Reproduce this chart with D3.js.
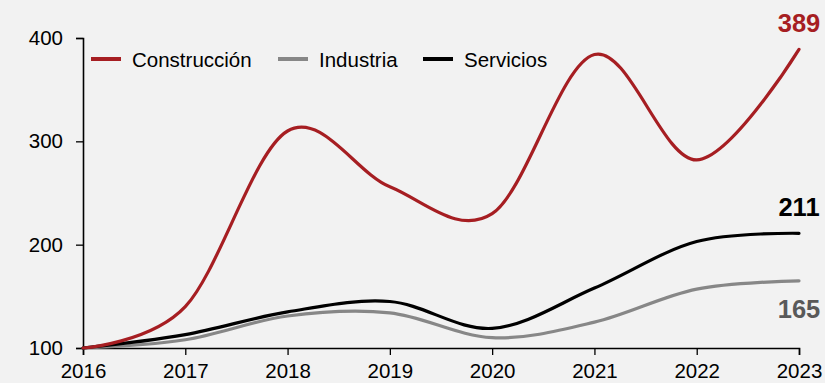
<!DOCTYPE html>
<html>
<head>
<meta charset="utf-8">
<script src="https://cdn.jsdelivr.net/npm/d3@7"></script>
<style>
  body { margin: 0; background: #f2f2f2; }
  text { font-family: "Liberation Sans", Arial, sans-serif; }
</style>
</head>
<body>
<div id="chart"></div>
<script>
// Data (index, 2016 = 100)
var years = [2016, 2017, 2018, 2019, 2020, 2021, 2022, 2023];
var construccion = [100, 140, 310, 256, 230, 384, 282, 389];
var industria = [100, 108, 131, 134, 110, 125, 157, 165];
var servicios = [100, 113, 135, 145, 119, 158, 203, 211];
var yTicks = [100, 200, 300, 400];

var seriesNames = ["Construcción", "Industria", "Servicios"];
var seriesColors = ["#a61e22", "#878787", "#000000"];
var labelColors = ["#a61e22", "#595959", "#000000"];

// Size and location of the chart
var svgWidth = 825;
var svgHeight = 383;

var margin = {
  top: 38,
  right: 26,
  bottom: 35,
  left: 83
};

var width = svgWidth - margin.left - margin.right;
var height = svgHeight - margin.top - margin.bottom;

var svg = d3
  .select("#chart")
  .append("svg")
  .attr("width", svgWidth)
  .attr("height", svgHeight);

svg.append("rect")
  .attr("width", svgWidth)
  .attr("height", svgHeight)
  .attr("fill", "#f2f2f2");

var chartGroup = svg.append("g")
  .attr("transform", `translate(${margin.left}, ${margin.top})`);

// scales
var xScale = d3.scaleLinear()
  .domain([d3.min(years), d3.max(years)])
  .range([0, width]);

var yScale = d3.scaleLinear()
  .domain([100, 400])
  .range([height, 0]);

// axes
var bottomAxis = d3.axisBottom(xScale)
  .tickValues(years)
  .tickFormat(d3.format("d"))
  .tickSize(7)
  .tickPadding(8);

var leftAxis = d3.axisLeft(yScale)
  .tickValues(yTicks)
  .tickSize(7)
  .tickPadding(13);

var xAxis = chartGroup.append("g")
  .attr("transform", `translate(0, ${height})`)
  .call(bottomAxis);

var yAxis = chartGroup.append("g")
  .call(leftAxis);

[xAxis, yAxis].forEach(function(axis) {
  axis.select(".domain").attr("stroke", "#000").attr("stroke-width", 1.6);
  axis.selectAll(".tick line").attr("stroke", "#000").attr("stroke-width", 1.3);
  axis.selectAll(".tick text")
    .attr("fill", "#000")
    .style("font-family", "'Liberation Sans', Arial, sans-serif")
    .style("font-size", "20.5px");
});

// smoothed lines (Catmull-Rom like a spreadsheet smooth line)
var seriesData = [construccion, industria, servicios];

var line = d3.line()
  .x((d, i) => xScale(years[i]))
  .y(d => yScale(d))
  .curve(d3.curveCardinal.tension(0));

// draw grey, then black, then red on top
[1, 2, 0].forEach(function(s) {
  chartGroup.append("path")
    .datum(seriesData[s])
    .attr("d", line)
    .attr("fill", "none")
    .attr("stroke", seriesColors[s])
    .attr("stroke-width", 3.2)
    .attr("stroke-linecap", "round");
});

// end value labels
var labelY = [-6, 280, 178];
seriesData.forEach(function(vals, s) {
  chartGroup.append("text")
    .attr("x", xScale(years[years.length - 1]))
    .attr("y", labelY[s])
    .attr("text-anchor", "middle")
    .attr("fill", labelColors[s])
    .style("font-size", "25.5px")
    .style("font-weight", "bold")
    .text(vals[vals.length - 1]);
});

// legend
var legendX = [91, 278, 423];
var legend = svg.append("g");
seriesNames.forEach(function(name, s) {
  legend.append("line")
    .attr("x1", legendX[s])
    .attr("x2", legendX[s] + 30)
    .attr("y1", 59)
    .attr("y2", 59)
    .attr("stroke", seriesColors[s])
    .attr("stroke-width", 4);

  legend.append("text")
    .attr("x", legendX[s] + 41)
    .attr("y", 66.5)
    .attr("fill", "#000")
    .style("font-size", "20.5px")
    .text(name);
});
</script>
</body>
</html>
